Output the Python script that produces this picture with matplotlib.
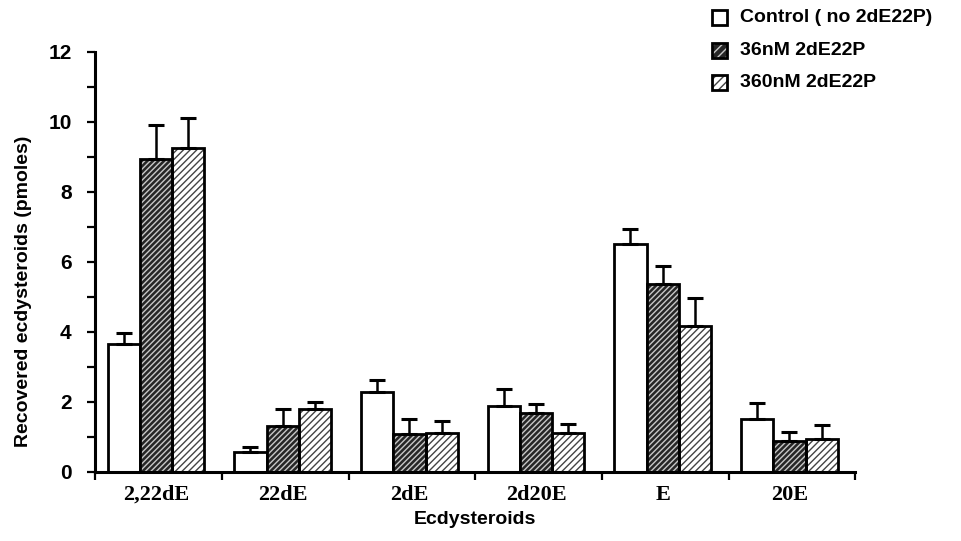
import numpy as np
import matplotlib.pyplot as plt
from matplotlib.patches import Rectangle

# values (pmoles)
categories = ["2,22dE", "22dE", "2dE", "2d20E", "E", "20E"]
series_labels = ["Control ( no 2dE22P)", "36nM 2dE22P", "360nM 2dE22P"]
control = [3.65, 0.57, 2.28, 1.88, 6.5, 1.52]
control_err = [0.32, 0.14, 0.34, 0.48, 0.44, 0.45]
nm36 = [8.95, 1.3, 1.08, 1.67, 5.38, 0.87]
nm36_err = [0.95, 0.49, 0.42, 0.27, 0.5, 0.27]
nm360 = [9.25, 1.78, 1.1, 1.1, 4.18, 0.95]
nm360_err = [0.85, 0.21, 0.35, 0.27, 0.8, 0.39]

SANS = "Liberation Sans"

fig = plt.figure(figsize=(9.62, 5.41), dpi=100)
ax = fig.add_axes([0.099, 0.128, 0.79, 0.776])

x = np.arange(len(categories)) + 0.48
w = 0.255
offsets = [-w, 0, w]
lw = 2.0

# control: open bars
ax.bar(x + offsets[0], control, w, color="white", edgecolor="black", linewidth=lw, zorder=2)
# 36 nM: dark bars with light hatching
ax.bar(x + offsets[1], nm36, w, color="#262626", edgecolor="#c8c8c8", hatch="//////", linewidth=0, zorder=2)
ax.bar(x + offsets[1], nm36, w, fill=False, edgecolor="black", linewidth=lw, zorder=3)
# 360 nM: light bars with dark hatching
ax.bar(x + offsets[2], nm360, w, color="white", edgecolor="#444444", hatch="/////", linewidth=0, zorder=2)
ax.bar(x + offsets[2], nm360, w, fill=False, edgecolor="black", linewidth=lw, zorder=3)

for off, vals, errs in zip(offsets, [control, nm36, nm360], [control_err, nm36_err, nm360_err]):
    ax.errorbar(x + off, vals, yerr=[np.zeros(len(errs)), errs], fmt="none",
                ecolor="black", elinewidth=1.8, capsize=6, capthick=2.2, zorder=4)

ax.set_xlim(0, len(categories))
ax.set_ylim(0, 12)
ax.spines["top"].set_visible(False)
ax.spines["right"].set_visible(False)
ax.spines["left"].set_linewidth(2.2)
ax.spines["bottom"].set_linewidth(2.2)

ax.set_yticks(np.arange(0, 13, 2))
ax.set_yticks(np.arange(1, 12, 2), minor=True)
ax.set_xticks(np.arange(0, len(categories) + 1))
ax.set_xticklabels([])
ax.tick_params(axis="y", which="both", direction="out", width=1.6, length=6, labelsize=15, pad=11)
ax.tick_params(axis="x", which="major", direction="out", width=1.6, length=6)
for lab in ax.get_yticklabels():
    lab.set_family(SANS)
    lab.set_fontweight("bold")

for xi, name in zip(x, categories):
    ax.text(xi, -0.38, name, ha="center", va="top", fontsize=16, fontweight="bold",
            family="Liberation Serif", transform=ax.transData)

ax.set_xlabel("Ecdysteroids", fontsize=14, fontweight="bold", family=SANS, labelpad=19)
ax.set_ylabel("Recovered ecdysteroids (pmoles)", fontsize=14, fontweight="bold", family=SANS)
ax.yaxis.set_label_coords(-0.083, 0.43)

# legend drawn by hand in figure coords
styles = [
    dict(facecolor="white", edgecolor="black", hatch=None),
    dict(facecolor="#262626", edgecolor="#c8c8c8", hatch="////"),
    dict(facecolor="white", edgecolor="#444444", hatch="////"),
]
ys = [0.967, 0.907, 0.847]
for st, yy, lab in zip(styles, ys, series_labels):
    sq = Rectangle((0.740, yy - 0.014), 0.016, 0.028, transform=fig.transFigure,
                   facecolor=st["facecolor"], edgecolor=st["edgecolor"], hatch=st["hatch"], linewidth=0)
    fig.add_artist(sq)
    fig.add_artist(Rectangle((0.740, yy - 0.014), 0.016, 0.028, transform=fig.transFigure,
                             fill=False, edgecolor="black", linewidth=2))
    fig.text(0.769, yy, lab, fontsize=14, fontweight="bold", family=SANS, va="center", ha="left")

fig.savefig("out.png", dpi=100)
